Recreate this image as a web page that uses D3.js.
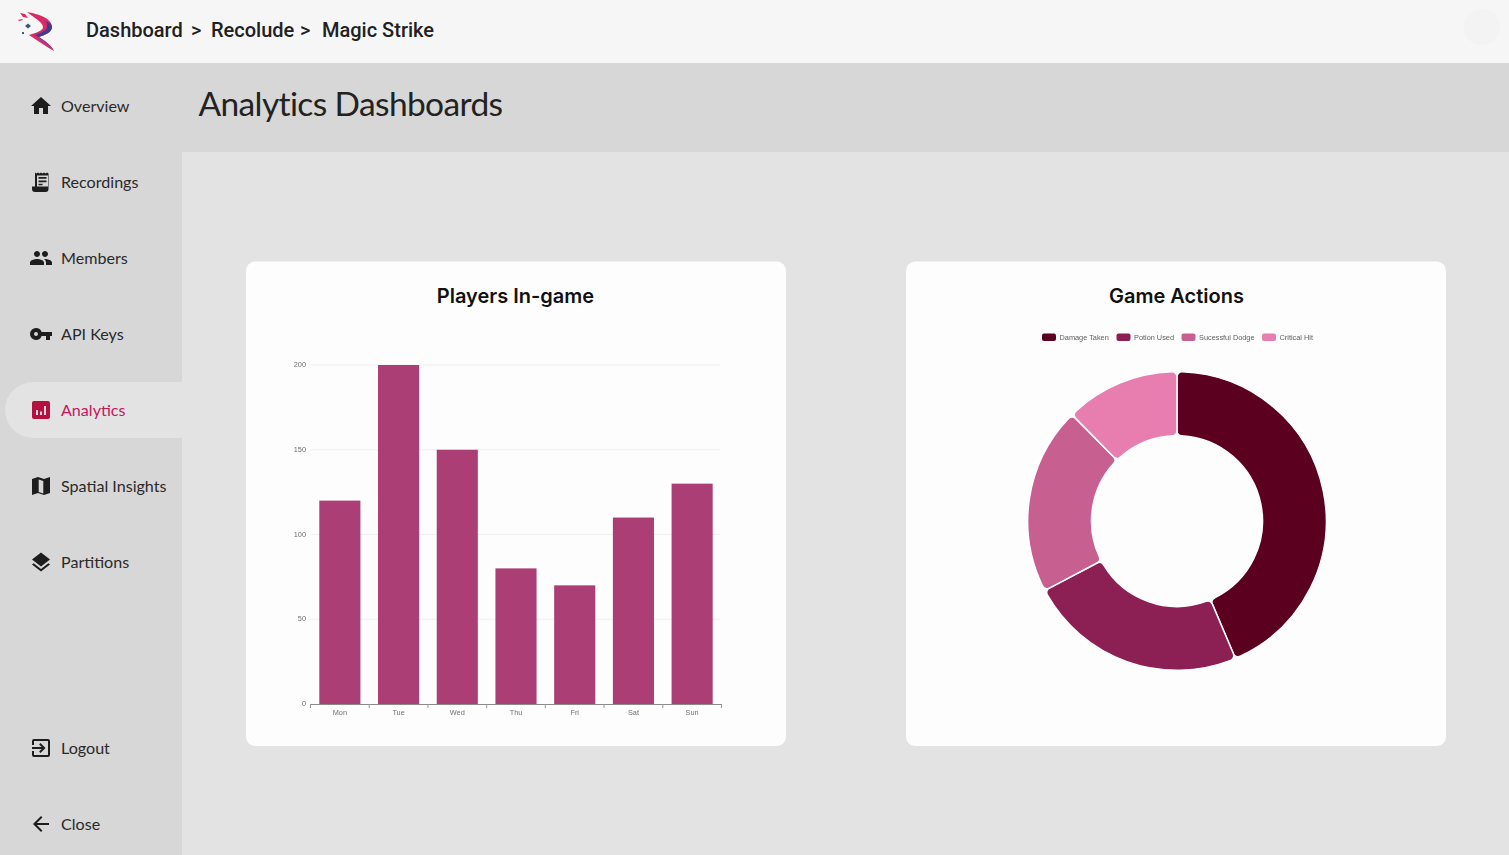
<!DOCTYPE html>
<html>
<head>
<meta charset="utf-8">
<title>Analytics Dashboards</title>
<script src="https://cdn.jsdelivr.net/npm/d3@7"></script>
<style>
html, body { margin: 0; padding: 0; background: #e3e3e3; overflow: hidden; }
svg { display: block; }
.nav { font-family: Lato, sans-serif; font-size: 16.1px; fill: #2a2a2a; }
.crumb { font-family: Roboto, sans-serif; font-size: 20px; font-weight: 500; fill: #212121; }
.cardTitle { font-family: Inter, sans-serif; font-size: 20px; font-weight: 600; fill: #111; text-anchor: middle; }
.tick-label { font-family: "Liberation Sans", sans-serif; font-size: 7.35px; fill: #707070; filter: blur(0.25px); }
.legend-label { font-family: "Liberation Sans", sans-serif; font-size: 7.35px; fill: #606060; filter: blur(0.25px); }
</style>
</head>
<body>
<script>
// chart values
const days = ["Mon", "Tue", "Wed", "Thu", "Fri", "Sat", "Sun"];
const playerCounts = [120, 200, 150, 80, 70, 110, 130];
const yTicks = [0, 50, 100, 150, 200];

const actionNames = ["Damage Taken", "Potion Used", "Sucessful Dodge", "Critical Hit"];
const actionValues = [43.6, 23.7, 20.3, 12.4];
const actionColors = ["#5c0020", "#8c2054", "#c75f91", "#e87db0"];

const crumbs = [["Dashboard", 86], [">", 191], ["Recolude", 211], [">", 300], ["Magic Strike", 322]];

// material style icon paths, 24x24 box
const icons = {
    home: "M10 20v-6h4v6h5v-8h3L12 3 2 12h3v8z",
    receipt: "M6 2.500l1.500 1 1.500-1 1.500 1 1.500-1 1.500 1 1.500-1 1.500 1 1.500-1 1.500 1V19a3 3 0 0 1-3 3H6a3 3 0 0 1-3-3v-2.500h3zM8 5.500v11h11v-11zM9.500 7h8v1.800h-8zm0 3.500h8v1.800h-8zm0 3.300h4v1.500h-4z",
    people: "M16 11c1.660 0 2.990-1.340 2.990-3S17.660 5 16 5s-3 1.340-3 3 1.340 3 3 3zm-8 0c1.660 0 2.990-1.340 2.990-3S9.660 5 8 5 5 6.340 5 8s1.340 3 3 3zm0 2c-2.330 0-7 1.170-7 3.500V19h14v-2.500C15 14.170 10.330 13 8 13zm8 0c-.290 0-.620.020-.970.050 1.160.840 1.970 1.970 1.970 3.450V19h6v-2.500c0-2.330-4.670-3.500-7-3.500z",
    key: "M12.650 10A6 6 0 0 0 7 6a6 6 0 0 0 0 12 6 6 0 0 0 5.650-4H17v4h4v-4h2v-4zM7 14a2 2 0 1 1 0-4 2 2 0 0 1 0 4z",
    map: "M3 5l6-2 6 2 6-2v16l-6 2-6-2-6 2zM9.700 5.500v12.500l4.600 1.500V7z",
    layers: "M12 16.500l7.360-5.730L21 9.500l-9-7-9 7 1.630 1.270zM12 19.050l-7.370-5.730L3 14.590l9 7 9-7-1.640-1.280z",
    logout: "M10.090 15.590L11.500 17l5-5-5-5-1.410 1.410L12.670 11H3v2h9.670zM19 3H5a2 2 0 0 0-2 2v4h2V5h14v14H5v-4H3v4a2 2 0 0 0 2 2h14a2 2 0 0 0 2-2V5a2 2 0 0 0-2-2z",
    back: "M20 11H7.830l5.590-5.590L12 4l-8 8 8 8 1.410-1.410L7.830 13H20z"
};

const navItems = [
    ["Overview", 106, "home"],
    ["Recordings", 182, "receipt"],
    ["Members", 258, "people"],
    ["API Keys", 334, "key"],
    ["Analytics", 410, null],
    ["Spatial Insights", 486, "map"],
    ["Partitions", 562, "layers"],
    ["Logout", 748, "logout"],
    ["Close", 824, "back"]
];

const svg = d3.select("body").append("svg").attr("width", 1509).attr("height", 855);

////////////////////////////////////////////////////////////////////////
// page frame

svg.append("rect").attr("width", 1509).attr("height", 855).attr("fill", "#e3e3e3");
svg.append("rect").attr("y", 63).attr("width", 182).attr("height", 792).attr("fill", "#d7d7d7");
svg.append("rect").attr("y", 63).attr("width", 1509).attr("height", 89).attr("fill", "#d7d7d7");
svg.append("rect").attr("width", 1509).attr("height", 63).attr("fill", "#f6f6f6");
svg.append("circle").attr("cx", 1482).attr("cy", 27).attr("r", 18).attr("fill", "#f3f3f3");

// logo
const logo = svg.append("g");
logo.append("path").attr("fill", "#d92a66")
    .attr("d", "M27 12 C38 14 52 18 52 27 C52 33 44 35 39 37 C45 41 51 45 54 51 C47 47 38 41 29 35 C35 33 43 31 43 27 C43 22 33 17 27 12Z");
logo.append("path").attr("fill", "#3b3f8f").attr("d", "M46 21 C50 23 52 25 52 27 C52 33 44 35 39 37 L35 35 C40 33 47 31 47 27 C47 25 47 23 46 21Z");
logo.append("path").attr("fill", "#a83a8c").attr("d", "M39 37 C45 41 51 45 54 51 C50 46 44 43 37 39Z");
logo.append("path").attr("fill", "#d92a66").attr("d", "M20 13 l5 1 l3 4 l-5 -1z");
logo.append("path").attr("fill", "#3b5a78").attr("d", "M25 26 l3 -2.500 l3 2.500 l-3 2.500z");
logo.append("path").attr("fill", "#d92a66").attr("d", "M18 20 l4 -1 l1 1 l-4 1z");
logo.append("path").attr("fill", "#3b5a78").attr("d", "M22 32 l2 0 l0 2 l-2 0z");

svg.selectAll("text.crumb").data(crumbs).enter().append("text")
    .attr("class", "crumb")
    .attr("x", d => d[1])
    .attr("y", 37)
    .text(d => d[0]);

svg.append("text").attr("x", 198.500).attr("y", 116)
    .style("font-family", "Lato, sans-serif").style("font-size", "33.500px").style("letter-spacing", "-0.62px").attr("fill", "#222")
    .text("Analytics Dashboards");

////////////////////////////////////////////////////////////////////////
// sidebar

svg.append("path").attr("fill", "#e3e3e3")
    .attr("d", "M182 382H33a28 28 0 0 0 0 56H182z");

let nav = svg.selectAll("g.navItem").data(navItems).enter().append("g")
    .attr("class", "navItem")
    .attr("transform", d => "translate(0," + d[1] + ")");

nav.append("text").attr("class", "nav").attr("x", 61).attr("y", 5.800)
    .style("fill", d => d[0] === "Analytics" ? "#c2185b" : null)
    .text(d => d[0]);

nav.filter(d => d[2] !== null).append("path")
    .attr("transform", "translate(29,-12)")
    .attr("fill", "#1d1d1d")
    .attr("fill-rule", "evenodd")
    .attr("d", d => icons[d[2]]);

let analyticsIcon = svg.append("g").attr("transform", "translate(32,401)");
analyticsIcon.append("rect").attr("width", 18).attr("height", 18).attr("rx", 2).attr("fill", "#b5103f");
analyticsIcon.append("rect").attr("x", 4).attr("y", 9).attr("width", 2).attr("height", 5).attr("fill", "#f3d5de");
analyticsIcon.append("rect").attr("x", 8).attr("y", 10.500).attr("width", 2).attr("height", 3.500).attr("fill", "#f3d5de");
analyticsIcon.append("rect").attr("x", 12).attr("y", 5).attr("width", 2).attr("height", 9).attr("fill", "#f3d5de");

////////////////////////////////////////////////////////////////////////
// cards

svg.selectAll("rect.card").data([246, 906]).enter().append("rect")
    .attr("class", "card")
    .attr("x", d => d).attr("y", 261.500)
    .attr("width", 540).attr("height", 484.500)
    .attr("rx", 9)
    .attr("fill", "#fdfdfd");

svg.append("text").attr("class", "cardTitle").attr("x", 515.500).attr("y", 303).text("Players In-game");
svg.append("text").attr("class", "cardTitle").attr("x", 1176.500).attr("y", 303).text("Game Actions");

////////////////////////////////////////////////////////////////////////
// bar chart

const xScale = d3.scaleBand().domain(days).range([310.500, 721.500]).paddingInner(0.3).paddingOuter(0.15);
const xBand = d3.scaleBand().domain(days).range([310.500, 721.500]);
const yScale = d3.scaleLinear().domain([0, 200]).range([704, 365]);

const barChart = svg.append("g");

barChart.selectAll("line.grid").data(yTicks.filter(d => d > 0)).enter().append("line")
    .attr("class", "grid")
    .attr("x1", 310.500).attr("x2", 720)
    .attr("y1", d => yScale(d)).attr("y2", d => yScale(d))
    .attr("stroke", "#efefef").attr("stroke-width", 1);

barChart.selectAll("rect.bar").data(playerCounts).enter().append("rect")
    .attr("class", "bar")
    .attr("x", (d, i) => xScale(days[i]))
    .attr("y", d => yScale(d))
    .attr("width", xScale.bandwidth())
    .attr("height", d => yScale(0) - yScale(d))
    .attr("fill", "#ab3e74");

barChart.selectAll("text.yLabel").data(yTicks).enter().append("text")
    .attr("class", "tick-label yLabel")
    .attr("x", 306).attr("y", d => yScale(d) + 2)
    .attr("text-anchor", "end")
    .text(d => d);

barChart.append("line")
    .attr("x1", 310.500).attr("x2", 721.500).attr("y1", 704.500).attr("y2", 704.500)
    .attr("stroke", "#8a8a8a");

// tick marks sit on the band edges, one more than there are days
barChart.selectAll("line.xTick").data(d3.range(days.length + 1)).enter().append("line")
    .attr("class", "xTick")
    .attr("x1", i => i < days.length ? xBand(days[i]) : xBand.range()[1])
    .attr("x2", i => i < days.length ? xBand(days[i]) : xBand.range()[1])
    .attr("y1", 704).attr("y2", 708)
    .attr("stroke", "#999");

barChart.selectAll("text.xLabel").data(days).enter().append("text")
    .attr("class", "tick-label xLabel")
    .attr("x", d => xBand(d) + xBand.bandwidth() / 2).attr("y", 715)
    .attr("text-anchor", "middle")
    .text(d => d);

////////////////////////////////////////////////////////////////////////
// doughnut chart

const pie = d3.pie().sort(null).value(d => d);
const arc = d3.arc().innerRadius(85.500).outerRadius(149.300).cornerRadius(5);

const doughnut = svg.append("g").attr("transform", "translate(1177,521)");

doughnut.selectAll("path").data(pie(actionValues)).enter().append("path")
    .attr("d", arc)
    .attr("fill", (d, i) => actionColors[i])
    .attr("stroke", "#fdfdfd")
    .attr("stroke-width", 1.500);

const legendX = [1042, 1116.500, 1181.500, 1262];
const legend = svg.selectAll("g.legendItem").data(actionNames).enter().append("g")
    .attr("class", "legendItem")
    .attr("transform", (d, i) => "translate(" + legendX[i] + ",333.500)");

legend.append("rect").attr("width", 14).attr("height", 7.500).attr("rx", 2)
    .attr("fill", (d, i) => actionColors[i]);
legend.append("text").attr("class", "legend-label").attr("x", 17.500).attr("y", 6.300).text(d => d);
</script>
</body>
</html>
